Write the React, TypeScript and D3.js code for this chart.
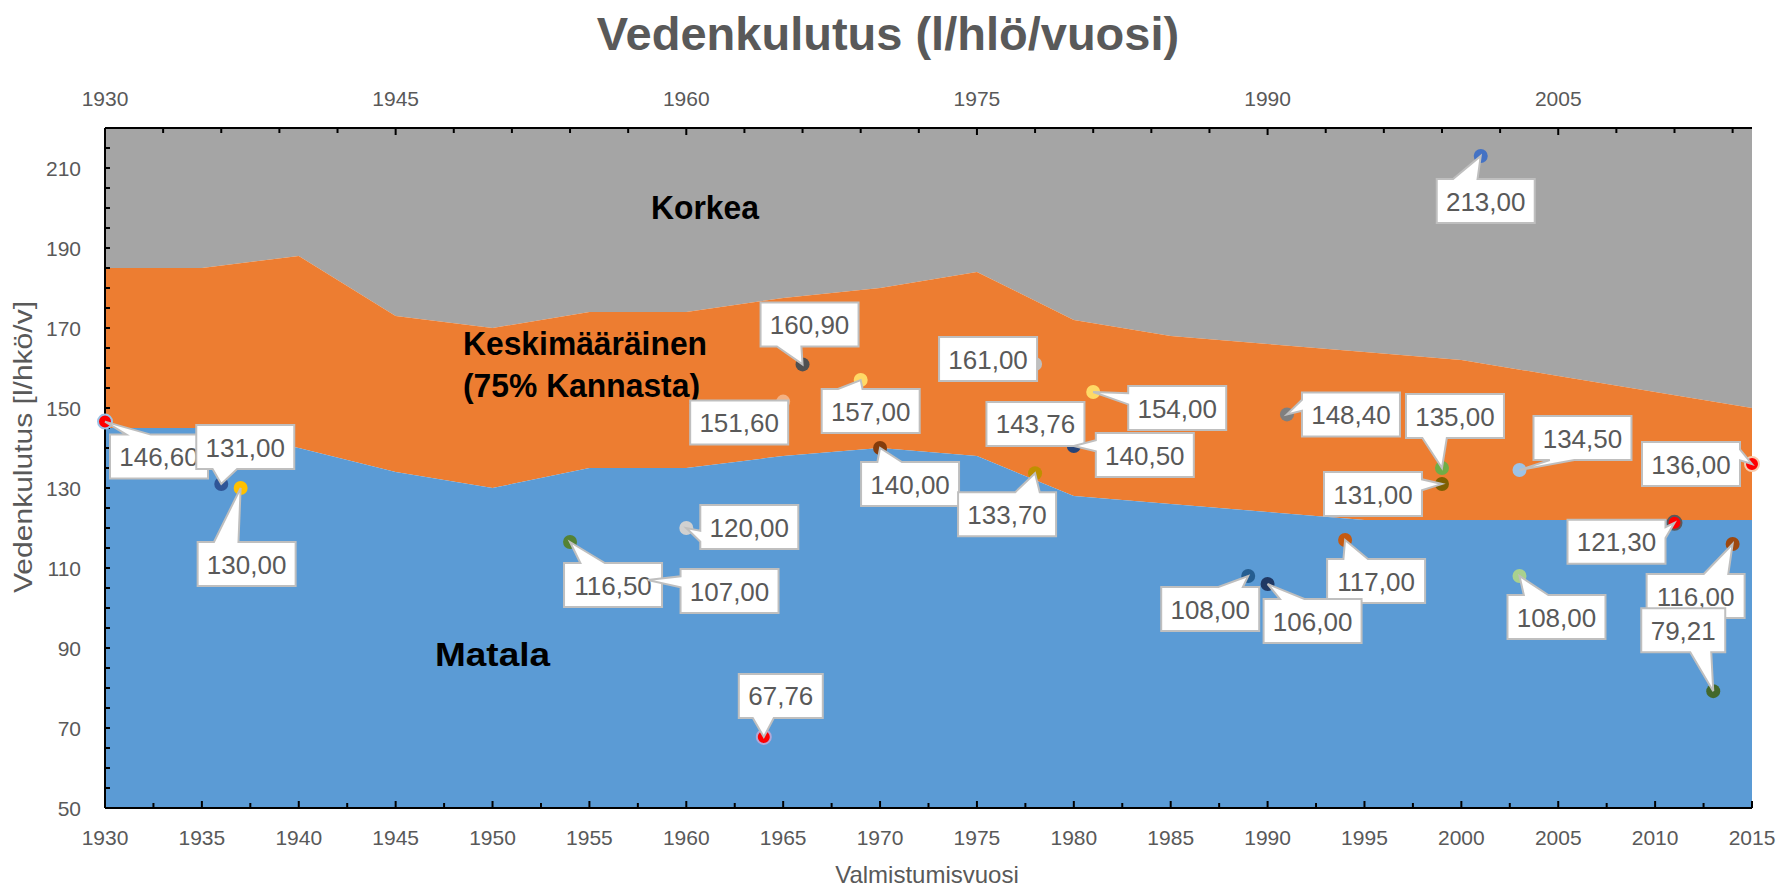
import React, { useEffect } from 'react';
import * as d3 from 'd3';

// stacked bands (top edge of each band), every 5 years
const years = [1930, 1935, 1940, 1945, 1950, 1955, 1960, 1965, 1970, 1975, 1980, 1985, 1990, 1995, 2000, 2005, 2010, 2015];
const matala = [145, 145, 140, 134, 130, 135, 135, 138, 140, 138, 128, 126, 124, 122, 122, 122, 122, 122];
const keskimaarainen = [185, 185, 188, 173, 170, 174, 174, 177.5, 180, 184, 172, 168, 166, 164, 162, 158, 154, 150];
const korkeaTop = 220;

// measured buildings
const pointYears = [1930, 1936, 1937, 1954, 1958, 1960, 1964, 1966, 1965, 1969, 1970, 1978, 1978, 1979, 1980, 1981, 1991, 1999, 1999, 2003, 2015, 2011, 2014, 2013, 1994, 1989, 1990, 2003, 2001];
const pointValues = [146.6, 131, 130, 116.5, 107, 120, 67.76, 160.9, 151.6, 157, 140, 161, 133.7, 143.76, 140.5, 154, 148.4, 135, 131, 134.5, 136, 121.3, 116, 79.21, 117, 108, 106, 108, 213];
const pointColors = ['#FF0000', '#2F5597', '#FFC000', '#548235', '#A5A5A5', '#D0D0D0', '#FF0000', '#505050', '#F4B183', '#FFD966', '#843C0C', '#BFBFBF', '#BF9000', '#264478', '#264478', '#FFD966', '#7F7F7F', '#70AD47', '#7F6000', '#9DC3E6', '#FF0000', '#FF0000', '#9E480E', '#43682B', '#C55A11', '#255E91', '#1F3864', '#A9D18E', '#4472C4'];
const pointOutlines = ['#9DC3E6', null, null, null, null, null, '#B4A7D6', null, null, null, null, null, null, null, null, null, null, null, null, null, '#F8CBAD', '#595959', null, null, null, null, null, null, null];

// callout box centre, offset from its point (px)
const labelOffsets = [[54, 35], [24, -37], [6, 76], [43, 43], [82, 11], [63, -1], [17, -41], [7, -40], [-44, 21], [10, 31], [30, 36], [-47, -5], [-28, 41], [-19, -9], [71, 9], [84, 16], [64, 0], [13, -52], [-69, 10], [63, -32], [-61, 0], [-58, 19], [-37, 52], [-30, -61], [31, 41], [-38, 33], [45, 37], [37, 41], [5, 45]];

const topTickLabels = [1930, 1945, 1960, 1975, 1990, 2005];
const bottomTickLabels = d3.range(1930, 2016, 5);
const leftTickLabels = [50, 70, 90, 110, 130, 150, 170, 190, 210];

const W = 1781;
const H = 889;
const FONT = "'Liberation Sans', Arial, sans-serif";
const GREY_TEXT = '#595959';

const x = d3.scaleLinear().domain([1930, 2015]).range([105, 1752]);
const y = d3.scaleLinear().domain([50, 220]).range([808, 128]);

// Excel-like wedgeRectCallout
function calloutPath(cx: number, cy: number, w: number, h: number, px: number, py: number) {
  const l = cx - w / 2, r = cx + w / 2, t = cy - h / 2, b = cy + h / 2;
  const dx = px - cx, dy = py - cy;
  const inside = Math.abs(dx) <= w / 2 && Math.abs(dy) <= h / 2;
  if (inside) return `M${l},${t}H${r}V${b}H${l}Z`;
  const vertical = Math.abs(dy) - Math.abs(dx * h / w) > 0;
  const xg1 = l + (dx > 0 ? 7 : 2) * w / 12, xg2 = l + (dx > 0 ? 10 : 5) * w / 12;
  const yg1 = t + (dy > 0 ? 7 : 2) * h / 12, yg2 = t + (dy > 0 ? 10 : 5) * h / 12;
  let p = `M${l},${t}`;
  if (vertical && dy < 0) p += `L${xg1},${t}L${px},${py}L${xg2},${t}`;
  p += `L${r},${t}`;
  if (!vertical && dx > 0) p += `L${r},${yg1}L${px},${py}L${r},${yg2}`;
  p += `L${r},${b}`;
  if (vertical && dy > 0) p += `L${xg2},${b}L${px},${py}L${xg1},${b}`;
  p += `L${l},${b}`;
  if (!vertical && dx < 0) p += `L${l},${yg2}L${px},${py}L${l},${yg1}`;
  return p + 'Z';
}

export default function App() {
  useEffect(() => {
    document.body.style.margin = '0';
  }, []);

  const rows = years.map((yr, i) => ({ yr, lo: matala[i], mid: keskimaarainen[i] }));

  const areaKorkea = d3.area<any>().x(d => x(d.yr)).y0(d => y(d.mid)).y1(() => y(korkeaTop));
  const areaKeski = d3.area<any>().x(d => x(d.yr)).y0(d => y(d.lo)).y1(d => y(d.mid));
  const areaMatala = d3.area<any>().x(d => x(d.yr)).y0(() => y(50)).y1(d => y(d.lo));

  const leftTicks = d3.range(50, 221, 5);
  const bottomTicks = d3.range(1930, 2015.01, 2.5);
  const topTicks = d3.range(1930, 2015, 3);

  const fmt = (v: number) => v.toFixed(2).replace('.', ',');

  return (
    <svg width={W} height={H} style={{ display: 'block', background: '#fff' }} fontFamily={FONT}>
      <text x={888} y={50} textAnchor="middle" fontSize={47} fontWeight="bold" fill={GREY_TEXT}>
        Vedenkulutus (l/hlö/vuosi)
      </text>

      <path d={areaKorkea(rows) || ''} fill="#A5A5A5" />
      <path d={areaKeski(rows) || ''} fill="#ED7D31" />
      <path d={areaMatala(rows) || ''} fill="#5B9BD5" />

      <text x={651} y={219} fontSize={34} fontWeight="bold" fill="#000" textLength={108} lengthAdjust="spacingAndGlyphs">Korkea</text>
      <text x={463} y={355} fontSize={34} fontWeight="bold" fill="#000" textLength={244} lengthAdjust="spacingAndGlyphs">Keskimääräinen</text>
      <text x={463} y={397} fontSize={34} fontWeight="bold" fill="#000" textLength={237} lengthAdjust="spacingAndGlyphs">(75% Kannasta)</text>
      <text x={435} y={666} fontSize={34} fontWeight="bold" fill="#000" textLength={115} lengthAdjust="spacingAndGlyphs">Matala</text>

      {/* axes */}
      <g stroke="#000" strokeWidth={2}>
        <line x1={x(1930)} x2={x(1930)} y1={y(220)} y2={y(50)} />
        <line x1={x(1930)} x2={x(2015)} y1={y(50)} y2={y(50)} />
        <line x1={x(1930)} x2={x(2015)} y1={y(220)} y2={y(220)} />
        {leftTicks.map(v => (
          <line key={'l' + v} x1={x(1930)} x2={x(1930) + 5} y1={y(v)} y2={y(v)} />
        ))}
        {bottomTicks.map(v => (
          <line key={'b' + v} x1={x(v)} x2={x(v)} y1={y(50)} y2={y(50) - (v % 5 === 0 ? 7 : 5)} />
        ))}
        {topTicks.map(v => (
          <line key={'t' + v} x1={x(v)} x2={x(v)} y1={y(220)} y2={y(220) + ((v - 1930) % 15 === 0 ? 7 : 5)} />
        ))}
      </g>

      <g fontSize={21} fill={GREY_TEXT}>
        {leftTickLabels.map(v => (
          <text key={'ll' + v} x={81} y={y(v) + 7.5} textAnchor="end">{v}</text>
        ))}
        {bottomTickLabels.map(v => (
          <text key={'bl' + v} x={x(v)} y={845} textAnchor="middle">{v}</text>
        ))}
        {topTickLabels.map(v => (
          <text key={'tl' + v} x={x(v)} y={106} textAnchor="middle">{v}</text>
        ))}
      </g>

      <text transform={`translate(32,447) rotate(-90)`} textAnchor="middle" fontSize={25} fill={GREY_TEXT} textLength={292} lengthAdjust="spacingAndGlyphs">
        Vedenkulutus [l/hkö/v]
      </text>
      <text x={927} y={883} textAnchor="middle" fontSize={24} fill={GREY_TEXT}>Valmistumisvuosi</text>

      {/* points */}
      {pointValues.map((v, i) => (
        <circle key={'p' + i} cx={x(pointYears[i])} cy={y(v)} r={7} fill={pointColors[i]}
          stroke={pointOutlines[i] || 'none'} strokeWidth={pointOutlines[i] ? 2 : 0} />
      ))}

      {/* callouts */}
      {pointValues.map((v, i) => {
        const px = x(pointYears[i]);
        const py = y(v);
        const label = fmt(v);
        const w = 14 + 14 * label.length;
        const h = 44;
        const cx = px + labelOffsets[i][0];
        const cy = py + labelOffsets[i][1];
        return (
          <g key={'c' + i}>
            <path d={calloutPath(cx, cy, w, h, px, py)} fill="#fff" stroke="#BFBFBF" strokeWidth={2} strokeLinejoin="miter" />
            <text x={cx} y={cy + 9.5} textAnchor="middle" fontSize={26} fill={GREY_TEXT}>{label}</text>
          </g>
        );
      })}
    </svg>
  );
}
